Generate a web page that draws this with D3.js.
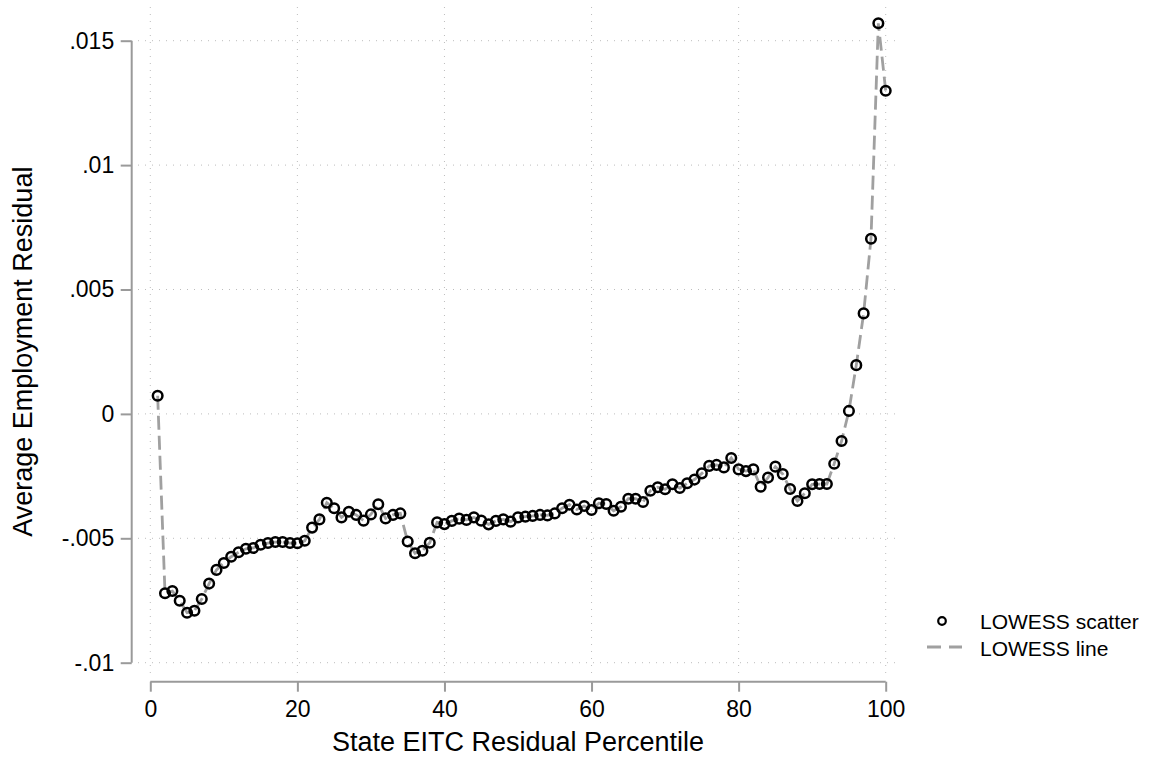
<!DOCTYPE html>
<html>
<head>
<meta charset="utf-8">
<script src="https://cdn.jsdelivr.net/npm/d3@7"></script>
<style>
  body { margin: 0; background: #fff; }
  svg text { font-family: "Liberation Sans", Arial, Helvetica, sans-serif; fill: #000; }
</style>
</head>
<body>
<svg id="chart" width="1161" height="765"></svg>
<script>
// Percentiles 1..100 of the state EITC residual
const percentiles = d3.range(1, 101);

// Average employment residual within each percentile bin
const avgResidual = [
  0.00073, -0.00721, -0.00712, -0.00751, -0.00799, -0.00791, -0.00744, -0.00682, -0.00627, -0.00599,
  -0.00574, -0.00556, -0.00542, -0.00539, -0.00526, -0.00519, -0.00515, -0.00515, -0.00519, -0.00520,
  -0.00510, -0.00457, -0.00424, -0.00357, -0.00379, -0.00416, -0.00393, -0.00406, -0.00429, -0.00404,
  -0.00363, -0.00420, -0.00406, -0.00400, -0.00513, -0.00560, -0.00550, -0.00518, -0.00436, -0.00443,
  -0.00430, -0.00421, -0.00426, -0.00416, -0.00429, -0.00444, -0.00430, -0.00424, -0.00433, -0.00416,
  -0.00413, -0.00410, -0.00406, -0.00408, -0.00400, -0.00379, -0.00365, -0.00384, -0.00370, -0.00386,
  -0.00359, -0.00362, -0.00389, -0.00373, -0.00341, -0.00341, -0.00354, -0.00309, -0.00295, -0.00303,
  -0.00283, -0.00298, -0.00279, -0.00264, -0.00239, -0.00209, -0.00205, -0.00215, -0.00177, -0.00223,
  -0.00230, -0.00223, -0.00293, -0.00256, -0.00212, -0.00242, -0.00302, -0.00350, -0.00319, -0.00283,
  -0.00282, -0.00282, -0.00200, -0.00109, 0.00012, 0.00196, 0.00404, 0.00704, 0.01570, 0.01299
];

const xTicks = [0, 20, 40, 60, 80, 100];
const yTicks = [-0.01, -0.005, 0, 0.005, 0.01, 0.015];
const yTickLabels = ["-.01", "-.005", "0", ".005", ".01", ".015"];
const legendLabels = ["LOWESS scatter", "LOWESS line"];

const points = percentiles.map((p, i) => ({ p, v: avgResidual[i] }));

const svg = d3.select("#chart");

const x = d3.scaleLinear().domain([0, 100]).range([150.3, 885.7]);
const y = d3.scaleLinear().domain([-0.01, 0.015]).range([662.7, 40.7]);

// plot region extents for the grid
const plotLeft = 138, plotRight = 898, plotTop = 7, plotBottom = 675;

const axisColor = "#9a9a9a";
const gridColor = "#bdbdbd";
const lineColor = "#a0a0a0";
const tickFont = 23;
const titleFont = 27;

// dotted grid
const grid = svg.append("g");
grid.selectAll("line.hg").data(yTicks).join("line")
  .attr("x1", plotLeft).attr("x2", plotRight)
  .attr("y1", d => y(d)).attr("y2", d => y(d))
  .attr("stroke", gridColor).attr("stroke-width", 1)
  .attr("stroke-dasharray", "1,6");
grid.selectAll("line.vg").data(xTicks).join("line")
  .attr("y1", plotTop).attr("y2", plotBottom)
  .attr("x1", d => x(d)).attr("x2", d => x(d))
  .attr("stroke", gridColor).attr("stroke-width", 1)
  .attr("stroke-dasharray", "1,6");

// y axis
const yAxis = svg.append("g")
  .attr("transform", "translate(131.7,0)")
  .call(d3.axisLeft(y).tickValues(yTicks).tickSize(11).tickPadding(6.5)
    .tickFormat((d, i) => yTickLabels[i]));
yAxis.select(".domain").attr("stroke", axisColor).attr("stroke-width", 2)
  .attr("d", `M0,${y(-0.01)}V${y(0.015)}`);
yAxis.selectAll(".tick line").attr("stroke", axisColor).attr("stroke-width", 2);
yAxis.selectAll(".tick text").attr("font-size", tickFont)
  .attr("font-family", "Liberation Sans, Arial, sans-serif").attr("fill", "#000");

// x axis
const xAxis = svg.append("g")
  .attr("transform", "translate(0,681.7)")
  .call(d3.axisBottom(x).tickValues(xTicks).tickSize(10).tickPadding(9));
xAxis.select(".domain").attr("stroke", axisColor).attr("stroke-width", 2)
  .attr("d", `M${x(0)},0H${x(100)}`);
xAxis.selectAll(".tick line").attr("stroke", axisColor).attr("stroke-width", 2);
xAxis.selectAll(".tick text").attr("font-size", tickFont)
  .attr("font-family", "Liberation Sans, Arial, sans-serif").attr("fill", "#000");

// axis titles
svg.append("text")
  .attr("x", (x(0) + x(100)) / 2).attr("y", 751)
  .attr("text-anchor", "middle").attr("font-size", titleFont)
  .text("State EITC Residual Percentile");
svg.append("text")
  .attr("transform", `translate(32,${(y(-0.01) + y(0.015)) / 2}) rotate(-90)`)
  .attr("text-anchor", "middle").attr("font-size", titleFont)
  .text("Average Employment Residual");

// LOWESS line
const lineGen = d3.line().x(d => x(d.p)).y(d => y(d.v));
svg.append("path").datum(points)
  .attr("d", lineGen)
  .attr("fill", "none").attr("stroke", lineColor).attr("stroke-width", 2.8)
  .attr("stroke-dasharray", "14,6");

// scatter markers (hollow circles)
svg.append("g").selectAll("circle").data(points).join("circle")
  .attr("cx", d => x(d.p)).attr("cy", d => y(d.v))
  .attr("r", 4.8)
  .attr("fill", "none").attr("stroke", "#000").attr("stroke-width", 2.5);

// legend
const legend = svg.append("g");
legend.append("circle").attr("cx", 942).attr("cy", 621).attr("r", 3.8)
  .attr("fill", "none").attr("stroke", "#000").attr("stroke-width", 2.2);
legend.append("line").attr("x1", 927).attr("x2", 962).attr("y1", 647).attr("y2", 647)
  .attr("stroke", lineColor).attr("stroke-width", 2.8).attr("stroke-dasharray", "14,8");
legend.selectAll("text").data(legendLabels).join("text")
  .attr("x", 980).attr("y", (d, i) => 629 + i * 27)
  .attr("font-size", 21)
  .text(d => d);
</script>
</body>
</html>
